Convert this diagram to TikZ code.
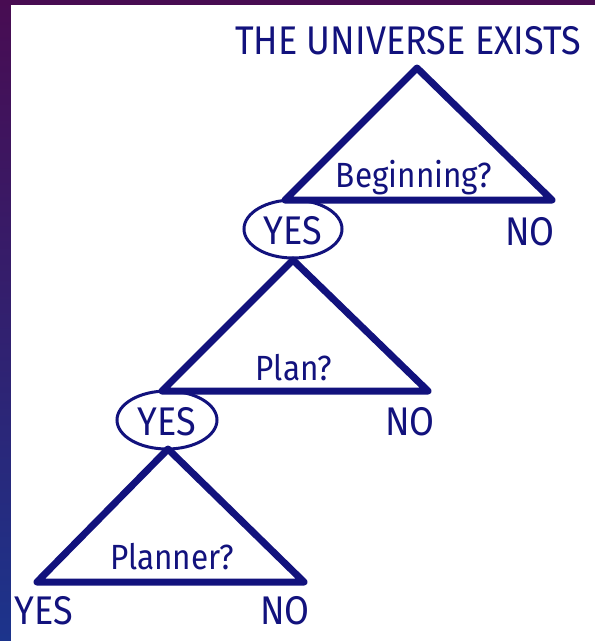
\documentclass[tikz,border=0pt]{standalone}
\usepackage{fontspec}
\setmainfont{Fira Sans}
\newfontfamily\hand[FakeStretch=0.9]{Fira Sans}
\usetikzlibrary{shapes.geometric}
\definecolor{ink}{RGB}{18,18,125}
\definecolor{bgtop}{RGB}{72,12,82}
\definecolor{bgbot}{RGB}{28,52,140}
\begin{document}
\begin{tikzpicture}[x=1pt,y=-1pt,
  tri/.style={draw=ink,line width=7pt,line join=round,line cap=round},
  lbl/.style={text=ink,font=\hand\fontsize{40}{40}\selectfont,inner sep=0pt,anchor=center},
  qlbl/.style={text=ink,font=\hand\fontsize{35}{35}\selectfont,inner sep=0pt,anchor=center},
  oval/.style={draw=ink,line width=3pt,ellipse,minimum width=98pt,minimum height=58pt,inner sep=0pt}]
\useasboundingbox (0,0) rectangle (595,641);
\shade[top color=bgtop,bottom color=bgbot] (0,0) rectangle (595,641);
\fill[white] (11,5) rectangle (595,641);
% title
\node[lbl] (title) at (408,41) {THE UNIVERSE EXISTS};
% triangle 1
\coordinate (a1) at (417,68);
\coordinate (l1) at (285,200);
\coordinate (r1) at (552,200);
\draw[tri] (a1) -- (l1) -- (r1) -- cycle;
\node[qlbl] (q1) at (414,178) {Beginning?};
\node[oval] (yes1) at (293,229) {};
\node[lbl] (yes1t) at (293,231) {YES};
\node[lbl] (no1) at (530,232) {NO};
% triangle 2
\coordinate (a2) at (293,260);
\coordinate (l2) at (162,391);
\coordinate (r2) at (428,391);
\draw[tri] (a2) -- (l2) -- (r2) -- cycle;
\node[qlbl] (q2) at (294,368) {Plan?};
\node[oval,minimum width=100pt] (yes2) at (167,420) {};
\node[lbl] (yes2t) at (167,422) {YES};
\node[lbl] (no2) at (410,422) {NO};
% triangle 3
\coordinate (a3) at (168,449);
\coordinate (l3) at (37,582);
\coordinate (r3) at (304,582);
\draw[tri] (a3) -- (l3) -- (r3) -- cycle;
\node[qlbl] (q3) at (172,557) {Planner?};
\node[lbl] (yes3) at (44,611) {YES};
\node[lbl] (no3) at (285,611) {NO};
\end{tikzpicture}
\end{document}
